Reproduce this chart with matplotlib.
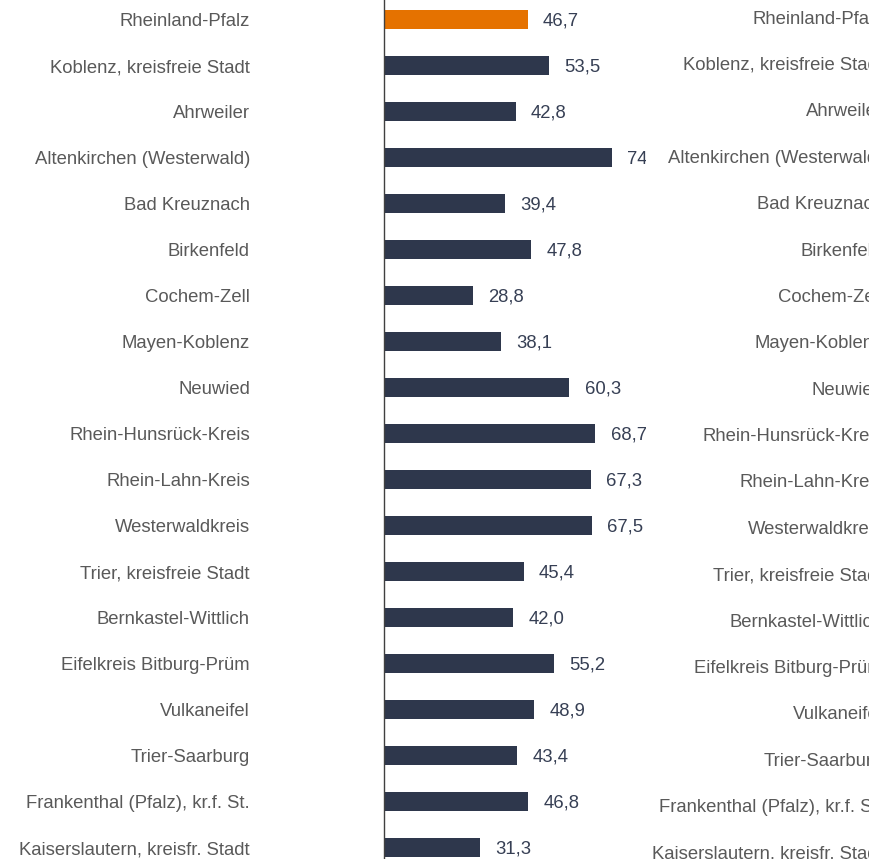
import matplotlib.pyplot as plt
from matplotlib.patches import Rectangle

plt.rcParams['font.family'] = ['Liberation Sans', 'DejaVu Sans']

kreise = ['Rheinland-Pfalz', 'Koblenz, kreisfreie Stadt', 'Ahrweiler',
          'Altenkirchen (Westerwald)', 'Bad Kreuznach', 'Birkenfeld',
          'Cochem-Zell', 'Mayen-Koblenz', 'Neuwied', 'Rhein-Hunsrück-Kreis',
          'Rhein-Lahn-Kreis', 'Westerwaldkreis', 'Trier, kreisfreie Stadt',
          'Bernkastel-Wittlich', 'Eifelkreis Bitburg-Prüm', 'Vulkaneifel',
          'Trier-Saarburg', 'Frankenthal (Pfalz), kr.f. St.',
          'Kaiserslautern, kreisfr. Stadt']
werte = [46.7, 53.5, 42.8, 74.0, 39.4, 47.8, 28.8, 38.1, 60.3, 68.7,
         67.3, 67.5, 45.4, 42.0, 55.2, 48.9, 43.4, 46.8, 31.3]

W, H = 870, 859
fig = plt.figure(figsize=(W / 100, H / 100), dpi=100)

navy = '#2e374c'
orange = '#e57200'
grau = '#595959'

# linkes Diagramm
ax = fig.add_axes([384 / W, 0, (646 - 384) / W, 1])
pos = list(range(len(kreise)))
farben = [orange] + [navy] * (len(kreise) - 1)
ax.barh(pos, werte, height=0.41, color=farben)
ax.set_xlim(0, 262 / 3.075)
ax.set_ylim((H - 19.5) / 46, -19.5 / 46)
ax.set_yticks(pos)
ax.set_yticklabels(kreise, fontsize=13.3, color=grau)
ax.tick_params(axis='y', length=0, pad=96.5)
ax.set_xticks([])
for s in ['top', 'right', 'bottom']:
    ax.spines[s].set_visible(False)
ax.spines['left'].set_color('#404040')
ax.spines['left'].set_linewidth(1)

for y, v in zip(pos, werte):
    ax.annotate(f'{v:.1f}'.replace('.', ','), (v, y), xytext=(11, -1.2),
                textcoords='offset points', va='center', ha='left',
                fontsize=13.3, color='#363f54', annotation_clip=False)

# rechts angrenzendes Diagramm (nur Beschriftung sichtbar)
fig.patches.append(Rectangle((646 / W, 0), 1, 1, transform=fig.transFigure,
                             facecolor='white', edgecolor='none', zorder=1))
ax2 = fig.add_axes([1017 / W, 0, 0.3, 1], zorder=2)
ax2.set_ylim((H - 17) / 46.4, -17 / 46.4)
ax2.set_yticks(pos)
ax2.set_yticklabels(kreise, fontsize=13.3, color=grau)
ax2.tick_params(axis='y', length=0, pad=96.5)
ax2.set_xticks([])
for s in ax2.spines.values():
    s.set_visible(False)

fig.savefig('out.png', dpi=100)
